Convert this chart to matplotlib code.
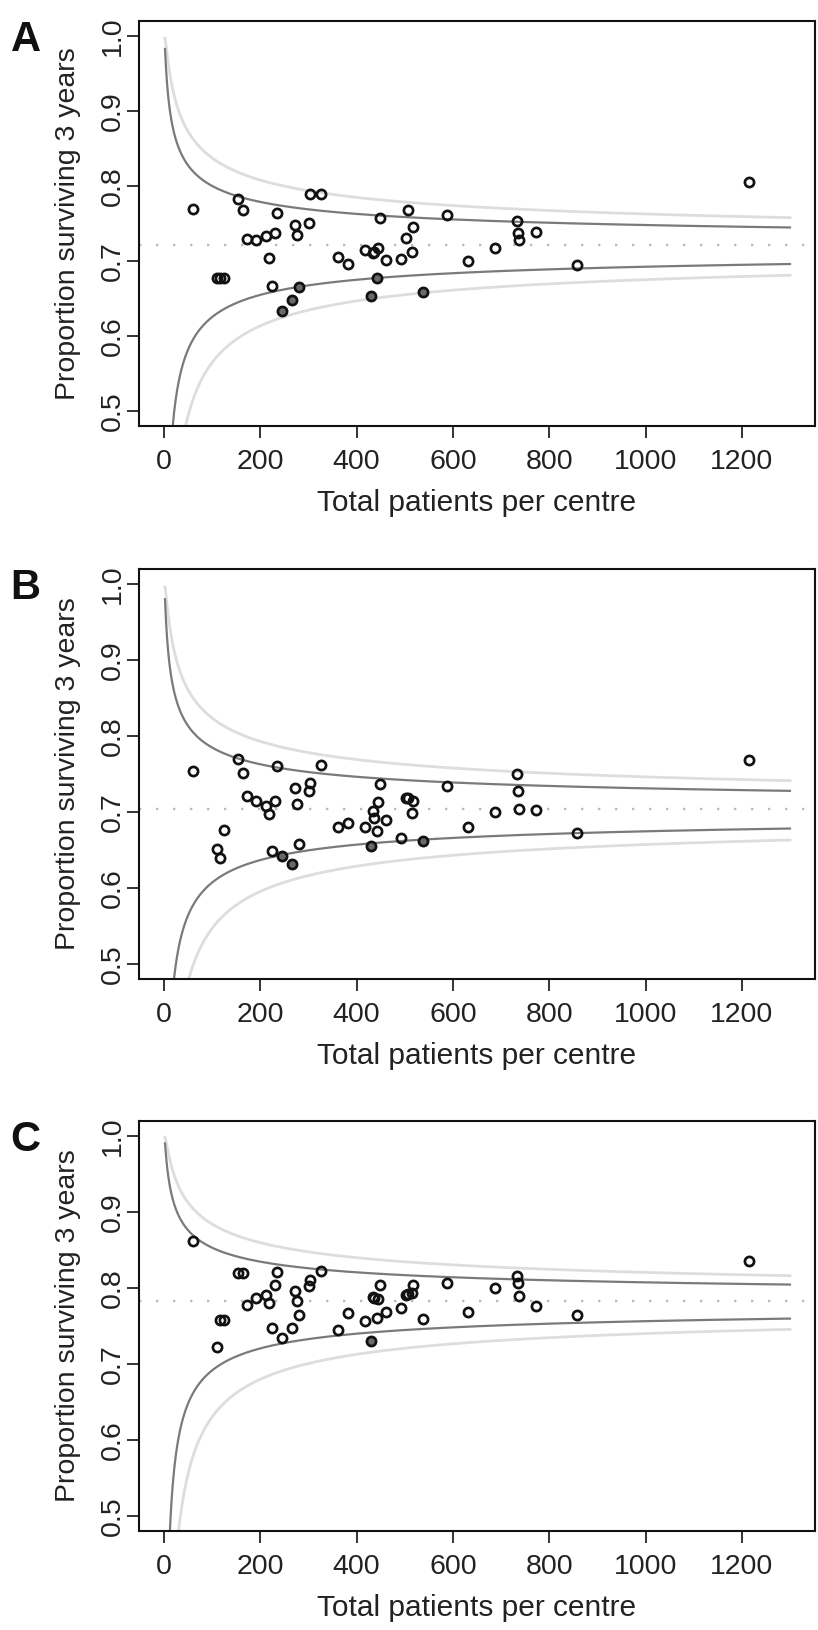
import numpy as np
import matplotlib
matplotlib.use("Agg")
import matplotlib.pyplot as plt

plt.rcParams['font.family'] = ['Liberation Sans', 'DejaVu Sans']

# ---- data ----
centre_size = [60, 109, 116, 125, 154, 164, 173, 192, 211, 218, 225, 231, 234, 246,
               266, 273, 276, 280, 301, 304, 325, 361, 382, 418, 430, 433, 437, 442,
               445, 448, 461, 492, 502, 506, 514, 517, 537, 588, 632, 688, 733, 736,
               737, 772, 857, 1215]

surv_A = [0.769, 0.678, 0.678, 0.678, 0.783, 0.768, 0.730, 0.728, 0.734, 0.704, 0.667,
          0.737, 0.764, 0.633, 0.648, 0.748, 0.735, 0.666, 0.751, 0.790, 0.790, 0.705,
          0.696, 0.715, 0.654, 0.711, 0.712, 0.677, 0.717, 0.757, 0.702, 0.703, 0.731,
          0.768, 0.712, 0.746, 0.659, 0.762, 0.700, 0.717, 0.753, 0.737, 0.728, 0.739,
          0.695, 0.805]

surv_B = [0.754, 0.651, 0.640, 0.676, 0.770, 0.751, 0.721, 0.715, 0.7075, 0.697, 0.649,
          0.715, 0.761, 0.642, 0.632, 0.731, 0.711, 0.658, 0.727, 0.738, 0.762, 0.680,
          0.686, 0.680, 0.655, 0.701, 0.6925, 0.675, 0.713, 0.737, 0.689, 0.666, 0.719,
          0.718, 0.699, 0.715, 0.662, 0.7345, 0.6805, 0.700, 0.750, 0.728, 0.7035, 0.702,
          0.6726, 0.769]

surv_C = [0.862, 0.722, 0.758, 0.758, 0.820, 0.820, 0.778, 0.787, 0.791, 0.7804, 0.747,
          0.804, 0.821, 0.734, 0.748, 0.7957, 0.7826, 0.765, 0.803, 0.811, 0.823, 0.745,
          0.767, 0.757, 0.730, 0.788, 0.787, 0.760, 0.786, 0.804, 0.769, 0.774, 0.791,
          0.792, 0.793, 0.804, 0.759, 0.8065, 0.769, 0.800, 0.816, 0.8065, 0.790, 0.777,
          0.765, 0.835]

# centres plotted with a grey fill (below the inner limit)
flagged_A = [246, 266, 280, 430, 442, 537]
flagged_B = [246, 266, 430, 537]
flagged_C = [430]

overall_A = 0.721
overall_B = 0.7036
overall_C = 0.783

z_inner = 1.96
z_outer = 3.09
n_max = 1300

panel_letters = ['A', 'B', 'C']
x_ticks = [0, 200, 400, 600, 800, 1000, 1200]
y_ticks = [0.5, 0.6, 0.7, 0.8, 0.9, 1.0]
x_label = 'Total patients per centre'
y_label = 'Proportion surviving 3 years'

# ---- layout (pixels of an 818 x 1630 canvas) ----
W, H = 818, 1630
fig = plt.figure(figsize=(W / 100, H / 100), dpi=100)
left_px, right_px = 139, 815
boxes = [(21, 426), (569, 979), (1121, 1531)]


def expit(v):
    return 1.0 / (1.0 + np.exp(-v))


def draw(ax, y, pbar, flagged):
    n = np.arange(2, n_max + 1)
    lp = np.log(pbar / (1 - pbar))
    se = 1.0 / np.sqrt(n * pbar * (1 - pbar))
    ax.axhline(pbar, color='#bbbbbb', lw=1.7, ls=(0, (1, 6.2)), zorder=1)
    for z, col, lw in [(z_outer, '#dddddd', 2.0), (z_inner, '#7a7a7a', 1.6)]:
        ax.plot(n, expit(lp + z * se), color=col, lw=lw, zorder=2)
        ax.plot(n, expit(lp - z * se), color=col, lw=lw, zorder=2)
    xs = np.array(centre_size, dtype=float)
    ys = np.array(y, dtype=float)
    mask = np.isin(xs, flagged)
    ax.plot(xs[~mask], ys[~mask], ls='none', marker='o', ms=6.6, mew=1.95,
            mec='#111111', mfc='none', zorder=3)
    ax.plot(xs[mask], ys[mask], ls='none', marker='o', ms=6.6, mew=1.95,
            mec='#111111', mfc='#6a6a6a', zorder=3)

    ax.set_xlim(-52, 1352)
    ax.set_ylim(0.48, 1.02)
    ax.set_xticks(x_ticks)
    ax.set_xticklabels([str(t) for t in x_ticks])
    ax.set_yticks(y_ticks)
    ax.set_yticklabels([f'{t:.1f}' for t in y_ticks])
    ax.tick_params(direction='out', length=8.6, width=1.2, labelsize=20.5,
                   color='#111111', labelcolor='#222222')
    ax.tick_params(axis='x', pad=8)
    ax.tick_params(axis='y', pad=1)
    plt.setp(ax.get_yticklabels(), rotation=90, va='center')
    for s in ax.spines.values():
        s.set_linewidth(1.5)
        s.set_color('#111111')


data = [(surv_A, overall_A, flagged_A), (surv_B, overall_B, flagged_B),
        (surv_C, overall_C, flagged_C)]

for (top, bot), (y, pbar, fl), letter in zip(boxes, data, panel_letters):
    ax = fig.add_axes([left_px / W, 1 - bot / H, (right_px - left_px) / W, (bot - top) / H])
    draw(ax, y, pbar, fl)
    hpx = bot - top
    ax.set_xlabel(x_label, fontsize=21.5, color='#222222')
    ax.xaxis.set_label_coords(0.5, -63 / hpx)
    ax.set_ylabel(y_label, fontsize=20.5, color='#222222')
    ax.yaxis.set_label_coords((81 - left_px) / (right_px - left_px), 0.5)
    fig.text(25.5 / W, 1 - (top + 30) / H, letter, fontsize=30, fontweight='bold',
             ha='center', va='baseline', color='#111111')

fig.savefig('out.png', dpi=100)
